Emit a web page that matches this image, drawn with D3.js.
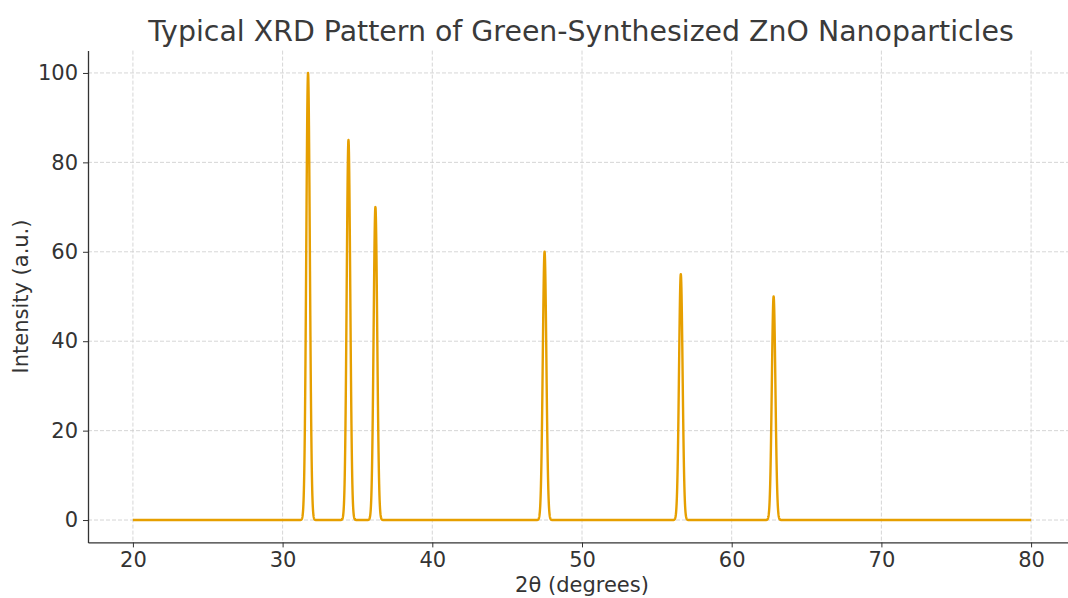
<!DOCTYPE html>
<html>
<head>
<meta charset="utf-8">
<script src="https://cdn.jsdelivr.net/npm/d3@7"></script>
<style>
  body { margin: 0; background: #fff; }
  svg { font-family: "DejaVu Sans", sans-serif; }
</style>
</head>
<body>
<svg id="chart" width="1068" height="598"></svg>
<script>
// ## peak table (2theta, relative intensity)
var peakPos = [31.7, 34.4, 36.2, 47.5, 56.6, 62.8];
var peakInt = [100, 85, 70, 60, 55, 50];
var peakSigma = 0.12; // peak width (deg)
var scanRange = [20, 80];
var scanStep = 0.01;
var xTicks = [20, 30, 40, 50, 60, 70, 80];
var yTicks = [0, 20, 40, 60, 80, 100];

// ## build the profile from the peak table
var pattern = [];
for (var t = scanRange[0]; t <= scanRange[1] + 1e-9; t += scanStep) {
    var v = 0;
    for (var i = 0; i < peakPos.length; i++) {
        v += peakInt[i] * Math.exp(-Math.pow(t - peakPos[i], 2) / (2 * peakSigma * peakSigma));
    }
    pattern.push([t, v]);
}

var svg = d3.select("#chart");
var plotLeft = 88, plotRight = 1076, plotTop = 50.6, plotBottom = 542.4;

var x = d3.scaleLinear().domain([17, 83]).range([plotLeft, plotRight]);
var y = d3.scaleLinear().domain([-5, 105]).range([plotBottom, plotTop]);

var textCol = "#333333";

// ## grid
var grid = svg.append("g").attr("class", "grid");
grid.selectAll(".vx").data(xTicks).enter().append("line")
    .attr("x1", function(d) { return x(d); })
    .attr("x2", function(d) { return x(d); })
    .attr("y1", plotTop).attr("y2", plotBottom)
    .attr("stroke", "#cccccc").attr("stroke-width", 0.8)
    .attr("stroke-dasharray", "4,2");
grid.selectAll(".hy").data(yTicks).enter().append("line")
    .attr("y1", function(d) { return y(d); })
    .attr("y2", function(d) { return y(d); })
    .attr("x1", plotLeft).attr("x2", plotRight)
    .attr("stroke", "#cccccc").attr("stroke-width", 0.8)
    .attr("stroke-dasharray", "4,2");

// ## pattern line
var line = d3.line()
    .x(function(d) { return x(d[0]); })
    .y(function(d) { return y(d[1]); });
svg.append("path")
    .datum(pattern)
    .attr("fill", "none")
    .attr("stroke", "#E69F00")
    .attr("stroke-width", 2.4)
    .attr("stroke-linejoin", "round")
    .attr("d", line);

// ## axes
var xAxis = svg.append("g")
    .attr("transform", "translate(0," + plotBottom + ")")
    .call(d3.axisBottom(x).tickValues(xTicks).tickSize(5).tickPadding(5).tickSizeOuter(0));
var yAxis = svg.append("g")
    .attr("transform", "translate(" + plotLeft + ",0)")
    .call(d3.axisLeft(y).tickValues(yTicks).tickSize(5).tickPadding(5).tickSizeOuter(0));
[xAxis, yAxis].forEach(function(ax) {
    ax.select(".domain").attr("stroke", textCol).attr("stroke-width", 1.3);
    ax.selectAll(".tick line").attr("stroke", textCol).attr("stroke-width", 1);
    ax.selectAll(".tick text")
        .attr("fill", textCol)
        .style("font-family", "DejaVu Sans, sans-serif")
        .style("font-size", "21px");
});

// ## labels
svg.append("text")
    .attr("x", 581).attr("y", 41)
    .attr("text-anchor", "middle")
    .attr("fill", "#3a3a3a")
    .style("font-size", "28.4px")
    .text("Typical XRD Pattern of Green-Synthesized ZnO Nanoparticles");

svg.append("text")
    .attr("x", x(50)).attr("y", 592)
    .attr("text-anchor", "middle")
    .attr("fill", textCol)
    .style("font-size", "21px")
    .text("2θ (degrees)");

svg.append("text")
    .attr("transform", "translate(28," + y(50) + ") rotate(-90)")
    .attr("text-anchor", "middle")
    .attr("fill", textCol)
    .style("font-size", "21px")
    .text("Intensity (a.u.)");
</script>
</body>
</html>
